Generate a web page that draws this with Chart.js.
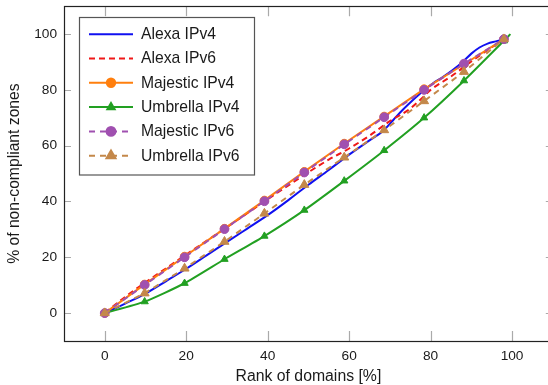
<!DOCTYPE html>
<html>
<head>
<meta charset="utf-8">
<script src="https://cdn.jsdelivr.net/npm/chart.js@4/dist/chart.umd.min.js"></script>
<style>
  html, body { margin: 0; padding: 0; background: #fff; overflow: hidden; }
  #wrap { width: 548px; height: 385px; overflow: hidden; }
</style>
</head>
<body>
<div id="wrap"><canvas id="chart" width="559" height="385"></canvas></div>
<script>
// ---- data ----
const xTicks = [0, 20, 40, 60, 80, 100];
const yTicks = [0, 20, 40, 60, 80, 100];

// marker series share the same rank positions
const rankX = [0, 9.8, 19.6, 29.4, 39.2, 49, 58.8, 68.6, 78.4, 88.2, 98];
const majesticV4 = [0, 10.3, 20.3, 30.3, 40.4, 50.7, 60.8, 70.5, 80.3, 89.2, 98.2];
const majesticV6 = [0, 10.1, 20, 30.1, 40.1, 50.4, 60.5, 70.2, 80, 89.4, 98.2];
const umbrellaV6 = [0, 7.1, 16, 25.6, 35.7, 46, 55.8, 65.6, 76, 86.5, 98.2];

const umbrellaV4X = [0, 9.8, 19.6, 29.4, 39.2, 49, 58.8, 68.6, 78.4, 88.2, 98, 99.6];
const umbrellaV4 = [0, 4.1, 10.7, 19.3, 27.6, 36.9, 47.4, 58.3, 70, 83.3, 97.6, 100];

const alexaV4X = [0, 5, 10, 15, 20, 25, 30, 35, 40, 45, 50, 55, 60, 65, 68.4, 71, 73, 76, 78.3, 80.5, 83, 85.5, 88, 90, 92, 94, 96, 98];
const alexaV4 = [0, 3.4, 7, 11.4, 15.9, 20.7, 25.5, 30.3, 35.1, 40.4, 46, 51.3, 56.8, 61.9, 65.4, 69.5, 72.6, 76.8, 79.8, 82.3, 84.6, 87.2, 90.2, 93, 95.2, 96.6, 97.4, 98.2];

const alexaV6X = [0, 5, 10, 15, 20, 25, 30, 35, 40, 45, 50, 55, 60, 65, 70, 75, 78, 80, 85, 90, 95, 98];
const alexaV6 = [0, 5.8, 11, 16, 21, 25.9, 30.8, 35.8, 40.8, 45.7, 50.5, 55, 59, 63.6, 68.8, 73.3, 77.2, 80, 84.8, 90.2, 95.3, 98];

const seriesNames = ["Alexa IPv4", "Alexa IPv6", "Majestic IPv4", "Umbrella IPv4", "Majestic IPv6", "Umbrella IPv6"];

function pts(xs, ys) {
  return xs.map((x, i) => ({ x: x, y: ys[i] }));
}

const FONT = "'Liberation Sans', Arial, Helvetica, sans-serif";
const TEXT = "#1a1a1a";

// green has a final unmarked point
const greenRadius = umbrellaV4X.map((_, i) => (i === umbrellaV4X.length - 1 ? 0 : 4.2));

const datasets = [
  {
    label: seriesNames[0], data: pts(alexaV4X, alexaV4),
    borderColor: "#1010f0", backgroundColor: "#1010f0", borderWidth: 2,
    pointRadius: 0, cubicInterpolationMode: "monotone", order: 6,
  },
  {
    label: seriesNames[1], data: pts(alexaV6X, alexaV6),
    borderColor: "#f01818", backgroundColor: "#f01818", borderWidth: 2,
    borderDash: [6, 4], pointRadius: 0, cubicInterpolationMode: "monotone", order: 5,
  },
  {
    label: seriesNames[2], data: pts(rankX, majesticV4),
    borderColor: "#ff7f0e", backgroundColor: "#ff7f0e", borderWidth: 2,
    pointStyle: "circle", pointRadius: 4.2, pointBorderWidth: 1, tension: 0, order: 4,
  },
  {
    label: seriesNames[3], data: pts(umbrellaV4X, umbrellaV4),
    borderColor: "#22a022", backgroundColor: "#22a022", borderWidth: 2,
    pointStyle: "triangle", pointRadius: greenRadius, pointBorderWidth: 1, tension: 0.2, order: 3,
  },
  {
    label: seriesNames[4], data: pts(rankX, majesticV6),
    borderColor: "#a050b0", backgroundColor: "#a050b0", borderWidth: 2,
    borderDash: [6, 5], pointStyle: "circle", pointRadius: 4.4, pointBorderWidth: 1, tension: 0, order: 2,
  },
  {
    label: seriesNames[5], data: pts(rankX, umbrellaV6),
    borderColor: "#c4884a", backgroundColor: "#c4884a", borderWidth: 2,
    borderDash: [6, 5], pointStyle: "triangle", pointRadius: 5.2, pointBorderWidth: 1, tension: 0, order: 1,
  },
];

//
// frame + inward tick marks (pgfplots look)
//
const framePlugin = {
  id: "frame",
  afterDraw(chart) {
    const { ctx, chartArea: a, scales } = chart;
    ctx.save();
    ctx.strokeStyle = "#aaaaaa";
    ctx.lineWidth = 1.2;
    ctx.beginPath();
    scales.x.ticks.forEach((t) => {
      const px = Math.round(scales.x.getPixelForValue(t.value)) + 0.5;
      ctx.moveTo(px, a.bottom); ctx.lineTo(px, a.bottom - 10);
      ctx.moveTo(px, a.top); ctx.lineTo(px, a.top + 10);
    });
    scales.y.ticks.forEach((t) => {
      const py = Math.round(scales.y.getPixelForValue(t.value)) + 0.5;
      ctx.moveTo(a.left, py); ctx.lineTo(a.left + 7, py);
      ctx.moveTo(a.right, py); ctx.lineTo(a.right - 7, py);
    });
    ctx.stroke();

    ctx.strokeStyle = "#222";
    ctx.lineWidth = 1.2;
    ctx.strokeRect(Math.round(a.left) + 0.5, Math.round(a.top) + 0.5,
      Math.round(a.right - a.left), Math.round(a.bottom - a.top));
    ctx.restore();
  },
};

//
// legend box in the upper-left corner of the plot
//
const legendPlugin = {
  id: "boxLegend",
  afterDraw(chart) {
    const { ctx, chartArea: a } = chart;
    const bx = a.left + 15, by = a.top + 10.5;
    const bw = 175, bh = 157.5, rowH = 24.3;
    ctx.save();
    ctx.fillStyle = "#fff";
    ctx.fillRect(bx, by, bw, bh);
    ctx.strokeStyle = "#555";
    ctx.lineWidth = 1.2;
    ctx.strokeRect(Math.round(bx) + 0.5, Math.round(by) + 0.5, bw, bh);

    chart.data.datasets.forEach((ds, i) => {
      const cy = by + 17.5 + i * rowH;
      const x0 = bx + 10, x1 = bx + 54;
      ctx.strokeStyle = ds.borderColor;
      ctx.lineWidth = ds.borderWidth;
      ctx.setLineDash(ds.borderDash || []);
      ctx.beginPath();
      ctx.moveTo(x0, cy); ctx.lineTo(x1, cy);
      ctx.stroke();
      ctx.setLineDash([]);
      const r = Array.isArray(ds.pointRadius) ? ds.pointRadius[0] : ds.pointRadius;
      if (r > 0) {
        ctx.fillStyle = ds.backgroundColor;
        Chart.helpers.drawPoint(ctx, { pointStyle: ds.pointStyle, radius: r, borderWidth: 1, rotation: 0 }, (x0 + x1) / 2, cy);
      }
      ctx.fillStyle = TEXT;
      ctx.font = "15.7px " + FONT;
      ctx.textBaseline = "middle";
      ctx.textAlign = "left";
      ctx.fillText(ds.label, bx + 62, cy + 0.5);
    });
    ctx.restore();
  },
};

// drop the label margins chart.js reserves so the plot box sits where the figure has it
function noMargins(axis) {
  axis.paddingTop = 0;
  axis.paddingBottom = 0;
  axis.paddingLeft = 0;
  axis.paddingRight = 0;
}

new Chart(document.getElementById("chart").getContext("2d"), {
  type: "line",
  data: { datasets },
  options: {
    responsive: false,
    animation: false,
    devicePixelRatio: 1,
    layout: { padding: { left: 0, top: 6, right: 2, bottom: 0 } },
    plugins: { legend: { display: false }, tooltip: { enabled: false } },
    elements: { line: { fill: false } },
    scales: {
      x: {
        type: "linear",
        min: -10,
        max: 110,
        afterBuildTicks: (axis) => { axis.ticks = xTicks.map((v) => ({ value: v })); },
        afterFit: (axis) => { axis.height = 44; noMargins(axis); },
        grid: { display: false, drawTicks: false },
        border: { display: false },
        ticks: { padding: 7, color: TEXT, font: { family: FONT, size: 13.7 } },
        title: {
          display: true, text: "Rank of domains [%]", color: TEXT,
          font: { family: FONT, size: 15.8, lineHeight: 1 },
          padding: { top: 0, bottom: 0 },
        },
      },
      y: {
        type: "linear",
        min: -10,
        max: 110,
        afterBuildTicks: (axis) => { axis.ticks = yTicks.map((v) => ({ value: v })); },
        afterFit: (axis) => { axis.width = 64; noMargins(axis); },
        grid: { display: false, drawTicks: false },
        border: { display: false },
        ticks: { padding: 7, color: TEXT, font: { family: FONT, size: 13.7 } },
        title: {
          display: true, text: "% of non-compliant zones", color: TEXT,
          font: { family: FONT, size: 15.7, lineHeight: 1.2 },
          padding: { top: 5, bottom: 0 },
        },
      },
    },
  },
  plugins: [framePlugin, legendPlugin],
});
</script>
</body>
</html>
